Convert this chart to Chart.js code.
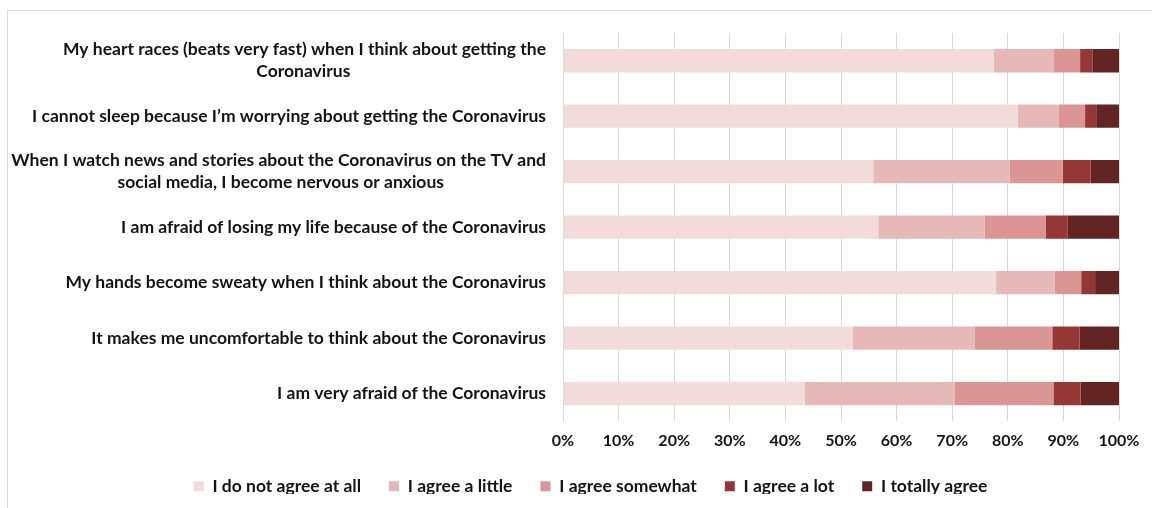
<!DOCTYPE html>
<html>
<head>
<meta charset="utf-8">
<script src="https://cdn.jsdelivr.net/npm/chart.js@4/dist/chart.umd.min.js"></script>
<style>
  html, body { margin: 0; padding: 0; background: #fff; }
  #wrap { position: relative; width: 1152px; height: 508px; }
  #frame { position: absolute; left: 7px; top: 10px; width: 1150px; height: 500px; border: 1px solid #d9d9d9; box-sizing: border-box; pointer-events: none; }
  canvas { position: absolute; left: 0; top: 0; }
</style>
</head>
<body>
<div id="wrap">
  <canvas id="c" width="1152" height="508"></canvas>
  <div id="frame"></div>
</div>
<script>
const categories = [
  ["My heart races (beats very fast) when I think about getting the", "Coronavirus"],
  "I cannot sleep because I\u2019m worrying about getting the Coronavirus",
  ["When I watch news and stories about the Coronavirus on the TV and", "social media, I become nervous or anxious"],
  "I am afraid of losing my life because of the Coronavirus",
  "My hands become sweaty when I think about the Coronavirus",
  "It makes me uncomfortable to think about the Coronavirus",
  "I am very afraid of the Coronavirus"
];
const seriesNames = ["I do not agree at all", "I agree a little", "I agree somewhat", "I agree a lot", "I totally agree"];
const notAtAll = [77.5, 81.8, 55.8, 56.7, 77.9, 52.1, 43.5];
const aLittle  = [10.7, 7.3, 24.5, 19.1, 10.5, 21.9, 26.9];
const somewhat = [4.8, 4.8, 9.6, 11.0, 4.8, 14.0, 17.8];
const aLot     = [2.2, 2.0, 5.0, 4.0, 2.5, 4.9, 4.9];
const totally  = [4.8, 4.1, 5.1, 9.2, 4.3, 7.1, 6.9];
const xTicks = [0, 10, 20, 30, 40, 50, 60, 70, 80, 90, 100];

const colors = ["#F2DCDB", "#E6B9B8", "#DA9694", "#953735", "#632523"];
const FONT_FAMILY = "Lato";
const LABEL_SIZE = 17.5;
const TICK_SIZE = 16;
const TEXT_COLOR = "#141414";

// center multi-line labels: pad shorter lines with trailing spaces (labels are right-aligned)
const mctx = document.createElement("canvas").getContext("2d");
mctx.font = "bold " + LABEL_SIZE + "px " + FONT_FAMILY;
const spaceW = mctx.measureText(" ").width || 4;
function centerLines(lbl) {
  if (!Array.isArray(lbl)) return lbl;
  const widths = lbl.map(s => mctx.measureText(s).width);
  const maxW = Math.max(...widths);
  return lbl.map((s, i) => s + " ".repeat(Math.max(0, Math.round((maxW - widths[i]) / 2 / spaceW))));
}

const allSeries = [notAtAll, aLittle, somewhat, aLot, totally];
const datasets = allSeries.map((d, i) => ({
  label: seriesNames[i],
  data: d,
  backgroundColor: colors[i],
  borderWidth: 0,
  barPercentage: 0.42,
  categoryPercentage: 1.0
}));

// legend: shift right and tighten its top gap, as in the reference
const LEGEND_TRIM = 11;
const legendTweak = {
  id: "legendTweak",
  beforeLayout(chart) {
    const lg = chart.legend;
    if (lg && !lg._trimmed) {
      const orig = lg.fit.bind(lg);
      lg.fit = function () { orig(); this.height -= LEGEND_TRIM; };
      lg._trimmed = true;
    }
  },
  afterLayout(chart) {
    const lg = chart.legend;
    if (lg) {
      lg.left += 29;
      lg.top -= LEGEND_TRIM;
      lg.bottom -= LEGEND_TRIM;
    }
  }
};

new Chart(document.getElementById("c"), {
  type: "bar",
  data: { labels: categories, datasets },
  plugins: [legendTweak],
  options: {
    indexAxis: "y",
    responsive: false,
    animation: false,
    layout: { padding: { top: 33, right: 0, bottom: 3, left: 0 } },
    scales: {
      x: {
        stacked: true,
        min: 0, max: 100,
        afterBuildTicks: (scale) => { scale.ticks = xTicks.map(v => ({ value: v })); },
        ticks: {
          callback: (v) => v + "%",
          color: TEXT_COLOR,
          font: { family: FONT_FAMILY, size: TICK_SIZE, weight: "bold" },
          padding: 10
        },
        grid: { color: "#d9d9d9", drawTicks: false },
        border: { display: false }
      },
      y: {
        stacked: true,
        afterFit: (scale) => { scale.width = 563; },
        ticks: {
          callback: function (v, i) { return centerLines(categories[i]); },
          color: TEXT_COLOR,
          font: { family: FONT_FAMILY, size: LABEL_SIZE, weight: "bold", lineHeight: 1.27 },
          padding: 17
        },
        grid: { display: false, drawTicks: false },
        border: { display: true, color: "#d9d9d9" }
      },
      yRight: {
        type: "category",
        position: "right",
        display: true,
        afterFit: (scale) => { scale.width = 33; },
        ticks: { display: false },
        grid: { display: false, drawTicks: false },
        border: { display: false }
      }
    },
    plugins: {
      legend: {
        position: "bottom",
        labels: {
          color: TEXT_COLOR,
          font: { family: FONT_FAMILY, size: LABEL_SIZE, weight: "bold" },
          boxWidth: 10,
          boxHeight: 10,
          padding: 28
        }
      },
      tooltip: { enabled: false }
    }
  }
});
</script>
</body>
</html>
